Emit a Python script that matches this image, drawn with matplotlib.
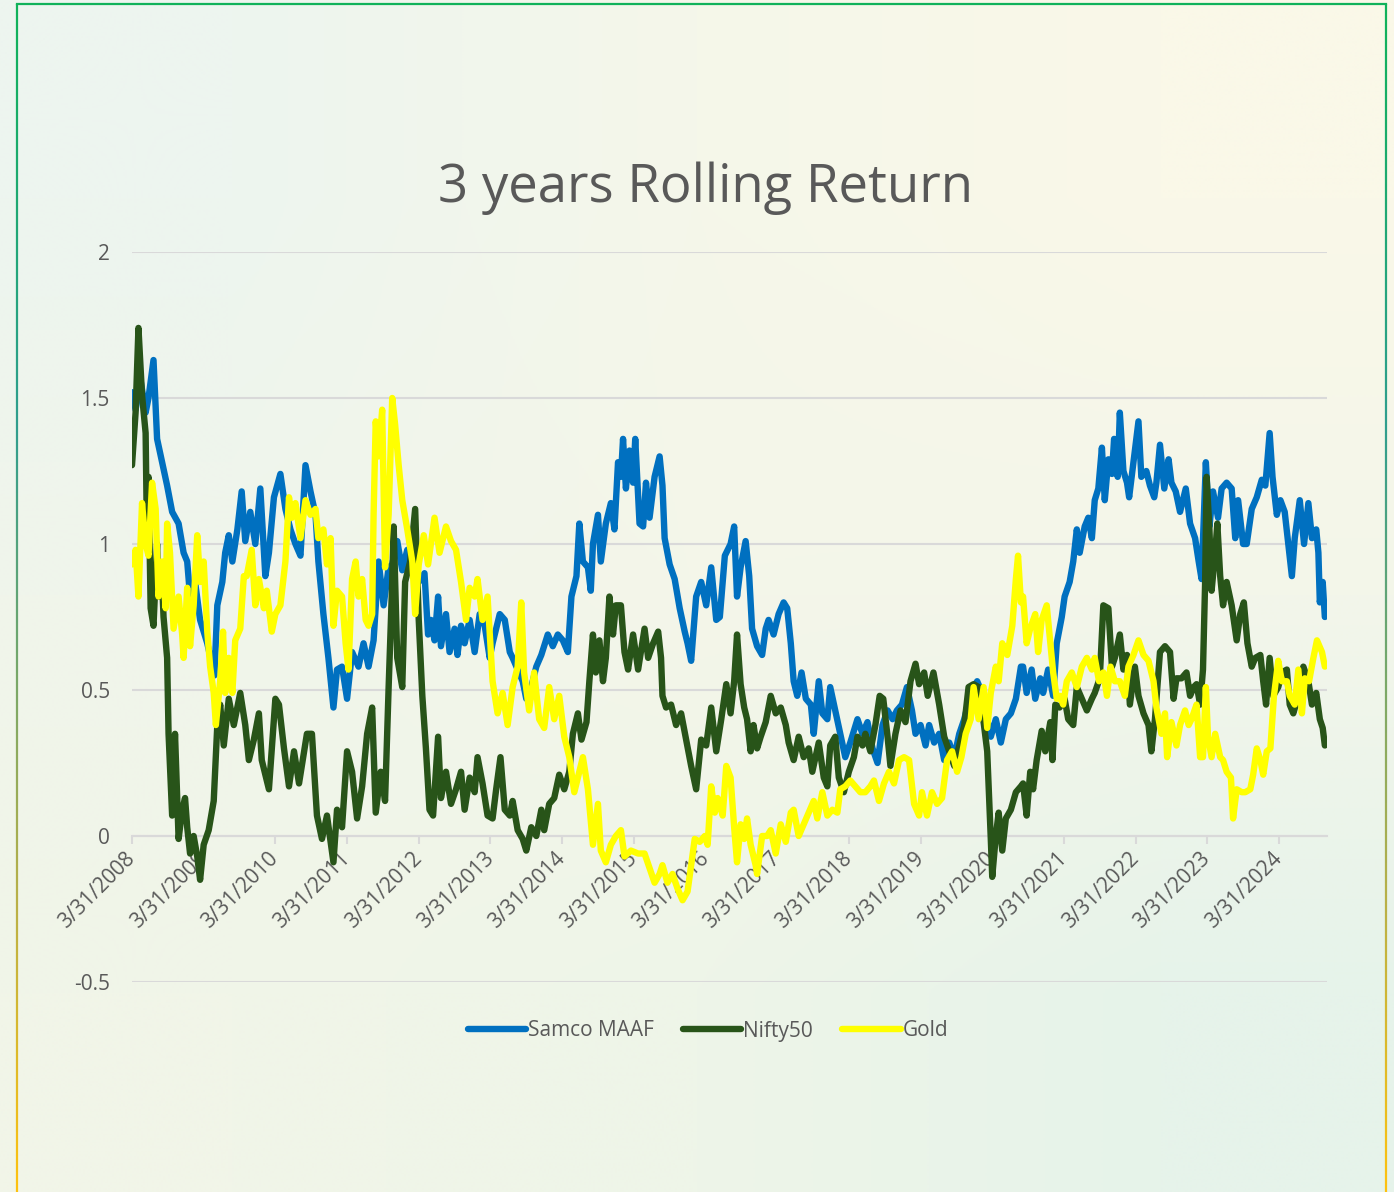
import numpy as np
import matplotlib.pyplot as plt
from matplotlib.colors import to_rgb, LinearSegmentedColormap
from matplotlib.collections import LineCollection
from matplotlib.lines import Line2D

plt.rcParams['font.family'] = ['Open Sans', 'DejaVu Sans']
plt.rcParams['axes.unicode_minus'] = False

# x = years after 3/31/2008
tick_years = list(range(2008, 2025))
tick_labels = [f"3/31/{y}" for y in tick_years]
y_ticks = [-0.5, 0, 0.5, 1, 1.5, 2]
y_labels = ['-0.5', '0', '0.5', '1', '1.5', '2']

series_names = ['Samco MAAF', 'Nifty50', 'Gold']
series_colors = ['#0070C0', '#285419', '#FFFF00']

maaf = [
    (0.00, 1.52), (0.05, 1.46), (0.12, 1.56), (0.19, 1.45), (0.23, 1.50), (0.30, 1.63),
    (0.35, 1.36), (0.42, 1.28), (0.49, 1.20), (0.56, 1.11), (0.65, 1.07), (0.72, 0.97),
    (0.77, 0.94), (0.81, 0.82), (0.88, 0.87), (0.95, 0.74), (1.05, 0.66), (1.15, 0.55),
    (1.19, 0.79), (1.26, 0.87), (1.30, 0.97), (1.35, 1.03), (1.40, 0.94), (1.47, 1.05),
    (1.53, 1.18), (1.58, 1.01), (1.65, 1.11), (1.72, 1.00), (1.79, 1.19), (1.86, 0.89),
    (1.91, 0.97), (1.98, 1.16), (2.07, 1.24), (2.14, 1.12), (2.21, 1.05), (2.28, 1.00),
    (2.35, 0.96), (2.42, 1.27), (2.49, 1.18), (2.56, 1.10), (2.60, 0.94), (2.67, 0.76),
    (2.74, 0.61), (2.81, 0.44), (2.86, 0.57), (2.93, 0.58), (3.00, 0.47), (3.07, 0.63),
    (3.16, 0.58), (3.23, 0.66), (3.30, 0.58), (3.37, 0.67), (3.44, 0.94), (3.51, 0.79),
    (3.58, 0.92), (3.63, 0.93), (3.70, 1.01), (3.77, 0.91), (3.84, 0.98), (4.00, 0.87),
    (4.08, 0.90), (4.13, 0.69), (4.17, 0.74), (4.22, 0.67), (4.27, 0.82), (4.31, 0.65),
    (4.38, 0.76), (4.43, 0.63), (4.50, 0.71), (4.54, 0.62), (4.59, 0.72), (4.64, 0.66),
    (4.71, 0.74), (4.78, 0.63), (4.85, 0.76), (4.92, 0.72), (4.99, 0.61), (5.03, 0.66),
    (5.13, 0.76), (5.20, 0.74), (5.27, 0.63), (5.31, 0.61), (5.38, 0.57), (5.45, 0.53),
    (5.50, 0.47), (5.57, 0.51), (5.64, 0.58), (5.71, 0.62), (5.80, 0.69), (5.87, 0.65),
    (5.94, 0.69), (6.01, 0.67), (6.08, 0.63), (6.13, 0.82), (6.20, 0.89), (6.24, 1.07),
    (6.29, 0.94), (6.36, 0.92), (6.40, 0.84), (6.43, 1.00), (6.50, 1.10), (6.54, 0.94),
    (6.61, 1.07), (6.68, 1.14), (6.73, 1.05), (6.78, 1.28), (6.82, 1.23), (6.85, 1.36),
    (6.89, 1.19), (6.94, 1.32), (6.99, 1.21), (7.02, 1.36), (7.08, 1.07), (7.13, 1.06),
    (7.17, 1.21), (7.22, 1.09), (7.29, 1.23), (7.36, 1.30), (7.40, 1.20), (7.43, 1.02),
    (7.50, 0.93), (7.57, 0.88), (7.64, 0.78), (7.71, 0.70), (7.75, 0.66), (7.80, 0.60),
    (7.87, 0.82), (7.94, 0.87), (8.01, 0.79), (8.08, 0.92), (8.15, 0.74), (8.20, 0.75),
    (8.27, 0.96), (8.35, 1.00), (8.40, 1.06), (8.44, 0.82), (8.49, 0.92), (8.56, 1.01),
    (8.61, 0.89), (8.65, 0.71), (8.72, 0.65), (8.79, 0.62), (8.84, 0.71), (8.88, 0.74),
    (8.95, 0.69), (9.02, 0.76), (9.09, 0.80), (9.14, 0.78), (9.19, 0.66), (9.23, 0.53),
    (9.28, 0.48), (9.34, 0.56), (9.40, 0.47), (9.47, 0.45), (9.51, 0.35), (9.58, 0.53),
    (9.63, 0.42), (9.70, 0.40), (9.74, 0.51), (9.81, 0.43), (9.88, 0.35), (9.95, 0.27),
    (10.02, 0.32), (10.12, 0.40), (10.19, 0.35), (10.26, 0.39), (10.33, 0.30), (10.40, 0.25),
    (10.47, 0.38), (10.54, 0.43), (10.61, 0.40), (10.67, 0.43), (10.74, 0.45), (10.81, 0.51),
    (10.88, 0.43), (10.93, 0.35), (11.00, 0.38), (11.07, 0.31), (11.12, 0.38), (11.19, 0.32),
    (11.26, 0.35), (11.33, 0.26), (11.40, 0.32), (11.47, 0.27), (11.54, 0.35), (11.61, 0.40),
    (11.70, 0.49), (11.79, 0.53), (11.86, 0.49), (11.93, 0.40), (11.98, 0.34), (12.05, 0.40),
    (12.12, 0.32), (12.19, 0.40), (12.26, 0.42), (12.33, 0.47), (12.40, 0.58), (12.43, 0.58),
    (12.48, 0.49), (12.55, 0.57), (12.60, 0.47), (12.67, 0.54), (12.71, 0.49), (12.78, 0.57),
    (12.85, 0.48), (12.90, 0.66), (12.97, 0.75), (13.01, 0.82), (13.08, 0.87), (13.13, 0.94),
    (13.18, 1.05), (13.22, 0.97), (13.29, 1.06), (13.34, 1.09), (13.39, 1.02), (13.43, 1.15),
    (13.48, 1.19), (13.53, 1.33), (13.57, 1.15), (13.62, 1.29), (13.67, 1.24), (13.70, 1.36),
    (13.75, 1.23), (13.78, 1.45), (13.83, 1.25), (13.88, 1.21), (13.91, 1.16), (13.97, 1.28),
    (14.04, 1.42), (14.08, 1.23), (14.15, 1.25), (14.20, 1.20), (14.26, 1.16), (14.29, 1.21),
    (14.34, 1.34), (14.40, 1.19), (14.46, 1.29), (14.50, 1.21), (14.56, 1.18), (14.62, 1.11),
    (14.70, 1.19), (14.76, 1.07), (14.83, 1.02), (14.88, 0.94), (14.92, 0.88), (14.98, 1.28),
    (15.03, 1.06), (15.08, 1.18), (15.15, 1.09), (15.20, 1.19), (15.27, 1.21), (15.34, 1.19),
    (15.39, 1.02), (15.43, 1.15), (15.50, 1.00), (15.55, 1.00), (15.62, 1.12), (15.69, 1.16),
    (15.76, 1.22), (15.81, 1.20), (15.87, 1.38), (15.91, 1.23), (15.97, 1.10), (16.02, 1.15),
    (16.08, 1.11), (16.13, 1.00), (16.18, 0.89), (16.22, 1.02), (16.29, 1.15), (16.35, 1.00),
    (16.41, 1.14), (16.46, 1.02), (16.52, 1.05), (16.55, 0.97), (16.57, 0.80), (16.61, 0.87),
    (16.64, 0.75),
]

nifty = [
    (0.00, 1.27), (0.05, 1.45), (0.09, 1.74), (0.14, 1.51), (0.19, 1.38), (0.21, 1.00),
    (0.23, 1.23), (0.26, 0.78), (0.30, 0.72), (0.35, 1.00), (0.37, 0.82), (0.42, 0.87),
    (0.44, 0.75), (0.49, 0.61), (0.51, 0.35), (0.56, 0.07), (0.60, 0.35), (0.65, -0.01),
    (0.70, 0.09), (0.74, 0.13), (0.77, 0.03), (0.81, -0.06), (0.86, 0.00), (0.91, -0.07),
    (0.95, -0.15), (1.00, -0.03), (1.07, 0.02), (1.14, 0.12), (1.19, 0.38), (1.23, 0.45),
    (1.28, 0.31), (1.35, 0.47), (1.42, 0.38), (1.51, 0.49), (1.58, 0.38), (1.63, 0.26),
    (1.70, 0.33), (1.77, 0.42), (1.81, 0.26), (1.91, 0.16), (2.00, 0.47), (2.05, 0.45),
    (2.12, 0.30), (2.19, 0.17), (2.26, 0.29), (2.33, 0.18), (2.44, 0.35), (2.51, 0.35),
    (2.58, 0.07), (2.65, -0.01), (2.72, 0.07), (2.81, -0.09), (2.86, 0.09), (2.93, 0.03),
    (3.00, 0.29), (3.07, 0.22), (3.14, 0.06), (3.21, 0.17), (3.28, 0.35), (3.35, 0.44),
    (3.40, 0.08), (3.47, 0.22), (3.53, 0.12), (3.58, 0.51), (3.63, 0.87), (3.65, 1.06),
    (3.70, 0.61), (3.77, 0.51), (3.81, 0.87), (3.88, 0.94), (3.95, 1.12), (4.00, 0.74),
    (4.05, 0.48), (4.10, 0.30), (4.15, 0.09), (4.20, 0.07), (4.27, 0.34), (4.31, 0.13),
    (4.38, 0.22), (4.45, 0.11), (4.52, 0.16), (4.59, 0.22), (4.64, 0.09), (4.71, 0.20),
    (4.78, 0.15), (4.82, 0.27), (4.89, 0.18), (4.96, 0.07), (5.03, 0.06), (5.08, 0.16),
    (5.14, 0.27), (5.20, 0.09), (5.27, 0.07), (5.31, 0.12), (5.38, 0.02), (5.45, -0.01),
    (5.50, -0.05), (5.57, 0.03), (5.64, 0.00), (5.71, 0.09), (5.75, 0.02), (5.82, 0.11),
    (5.89, 0.13), (5.96, 0.21), (6.03, 0.16), (6.10, 0.22), (6.15, 0.35), (6.22, 0.42),
    (6.27, 0.33), (6.34, 0.39), (6.38, 0.53), (6.43, 0.69), (6.47, 0.56), (6.52, 0.67),
    (6.57, 0.53), (6.61, 0.61), (6.66, 0.82), (6.71, 0.69), (6.75, 0.79), (6.82, 0.79),
    (6.87, 0.63), (6.92, 0.57), (6.99, 0.69), (7.06, 0.57), (7.15, 0.71), (7.20, 0.61),
    (7.27, 0.66), (7.34, 0.70), (7.38, 0.61), (7.40, 0.48), (7.45, 0.44), (7.52, 0.45),
    (7.59, 0.38), (7.66, 0.42), (7.73, 0.33), (7.80, 0.24), (7.87, 0.16), (7.94, 0.33),
    (8.01, 0.31), (8.08, 0.44), (8.15, 0.29), (8.22, 0.40), (8.29, 0.52), (8.35, 0.42),
    (8.40, 0.53), (8.44, 0.69), (8.49, 0.52), (8.54, 0.44), (8.58, 0.40), (8.63, 0.29),
    (8.67, 0.38), (8.72, 0.30), (8.77, 0.34), (8.84, 0.39), (8.91, 0.48), (8.98, 0.42),
    (9.05, 0.44), (9.12, 0.38), (9.16, 0.32), (9.23, 0.26), (9.30, 0.34), (9.37, 0.27),
    (9.44, 0.30), (9.49, 0.22), (9.58, 0.32), (9.65, 0.20), (9.70, 0.17), (9.74, 0.31),
    (9.81, 0.34), (9.86, 0.20), (9.93, 0.15), (10.00, 0.22), (10.07, 0.27), (10.12, 0.34),
    (10.19, 0.31), (10.23, 0.35), (10.30, 0.29), (10.37, 0.38), (10.43, 0.48), (10.48, 0.47),
    (10.54, 0.34), (10.58, 0.24), (10.65, 0.35), (10.72, 0.43), (10.79, 0.39), (10.86, 0.53),
    (10.93, 0.59), (10.98, 0.52), (11.05, 0.56), (11.10, 0.48), (11.18, 0.56), (11.26, 0.45),
    (11.33, 0.34), (11.40, 0.29), (11.47, 0.24), (11.54, 0.31), (11.61, 0.38), (11.67, 0.51),
    (11.74, 0.52), (11.81, 0.51), (11.88, 0.39), (11.93, 0.29), (11.98, -0.01), (12.00, -0.14),
    (12.05, 0.00), (12.09, 0.08), (12.14, -0.05), (12.19, 0.06), (12.26, 0.09), (12.33, 0.15),
    (12.40, 0.17), (12.43, 0.18), (12.48, 0.07), (12.53, 0.22), (12.57, 0.16), (12.62, 0.26),
    (12.69, 0.36), (12.74, 0.29), (12.81, 0.39), (12.84, 0.26), (12.88, 0.45), (12.94, 0.44),
    (13.01, 0.47), (13.06, 0.40), (13.13, 0.38), (13.18, 0.51), (13.25, 0.47), (13.32, 0.43),
    (13.39, 0.47), (13.43, 0.49), (13.50, 0.54), (13.55, 0.79), (13.62, 0.78), (13.67, 0.58),
    (13.71, 0.61), (13.78, 0.69), (13.83, 0.57), (13.88, 0.62), (13.92, 0.45), (13.99, 0.58),
    (14.04, 0.48), (14.11, 0.42), (14.18, 0.38), (14.22, 0.29), (14.27, 0.40), (14.34, 0.63),
    (14.41, 0.65), (14.48, 0.63), (14.53, 0.47), (14.57, 0.54), (14.64, 0.54), (14.71, 0.56),
    (14.76, 0.48), (14.81, 0.51), (14.85, 0.52), (14.90, 0.45), (14.94, 0.57), (14.97, 0.87),
    (14.99, 1.23), (15.03, 1.05), (15.06, 0.84), (15.11, 0.97), (15.14, 1.07), (15.18, 0.89),
    (15.22, 0.79), (15.27, 0.87), (15.34, 0.79), (15.41, 0.67), (15.46, 0.76), (15.51, 0.80),
    (15.56, 0.66), (15.62, 0.58), (15.67, 0.61), (15.74, 0.62), (15.78, 0.53), (15.82, 0.45),
    (15.87, 0.61), (15.92, 0.48), (15.99, 0.51), (16.04, 0.56), (16.11, 0.57), (16.15, 0.45),
    (16.20, 0.42), (16.27, 0.48), (16.34, 0.58), (16.41, 0.53), (16.46, 0.45), (16.52, 0.49),
    (16.57, 0.40), (16.61, 0.37), (16.64, 0.31),
]

gold = [
    (0.00, 0.93), (0.05, 0.98), (0.09, 0.82), (0.14, 1.14), (0.19, 1.00), (0.23, 0.96),
    (0.28, 1.21), (0.33, 1.12), (0.37, 0.82), (0.42, 0.94), (0.47, 0.78), (0.49, 1.07),
    (0.53, 0.97), (0.58, 0.71), (0.65, 0.82), (0.70, 0.69), (0.72, 0.61), (0.77, 0.85),
    (0.81, 0.65), (0.86, 0.79), (0.91, 1.03), (0.95, 0.87), (1.00, 0.94), (1.05, 0.70),
    (1.09, 0.58), (1.14, 0.49), (1.17, 0.38), (1.23, 0.53), (1.27, 0.70), (1.30, 0.49),
    (1.35, 0.61), (1.40, 0.49), (1.44, 0.67), (1.51, 0.71), (1.56, 0.89), (1.60, 0.89),
    (1.67, 0.98), (1.72, 0.79), (1.77, 0.88), (1.84, 0.78), (1.88, 0.84), (1.95, 0.70),
    (2.00, 0.76), (2.07, 0.79), (2.14, 0.94), (2.19, 1.16), (2.23, 1.09), (2.28, 1.14),
    (2.35, 1.02), (2.42, 1.15), (2.49, 1.10), (2.56, 1.12), (2.60, 1.02), (2.67, 1.05),
    (2.72, 0.93), (2.77, 1.02), (2.81, 0.72), (2.86, 0.84), (2.93, 0.82), (2.98, 0.66),
    (3.02, 0.57), (3.07, 0.88), (3.12, 0.94), (3.16, 0.82), (3.21, 0.88), (3.26, 0.74),
    (3.30, 0.72), (3.35, 0.76), (3.37, 1.10), (3.40, 1.42), (3.44, 1.30), (3.49, 1.46),
    (3.53, 0.92), (3.58, 1.10), (3.63, 1.50), (3.67, 1.41), (3.72, 1.27), (3.77, 1.15),
    (3.84, 1.05), (3.91, 0.94), (3.95, 0.76), (4.00, 0.93), (4.07, 1.03), (4.13, 0.93),
    (4.22, 1.09), (4.29, 0.97), (4.38, 1.06), (4.45, 1.01), (4.52, 0.98), (4.59, 0.87),
    (4.66, 0.74), (4.71, 0.85), (4.78, 0.82), (4.82, 0.88), (4.89, 0.74), (4.96, 0.82),
    (5.03, 0.53), (5.10, 0.42), (5.17, 0.49), (5.24, 0.38), (5.31, 0.51), (5.38, 0.58),
    (5.43, 0.80), (5.47, 0.56), (5.54, 0.43), (5.61, 0.56), (5.68, 0.40), (5.75, 0.37),
    (5.82, 0.51), (5.89, 0.40), (5.96, 0.48), (6.03, 0.34), (6.10, 0.27), (6.17, 0.15),
    (6.24, 0.22), (6.29, 0.27), (6.36, 0.16), (6.43, -0.03), (6.50, 0.11), (6.54, -0.05),
    (6.61, -0.09), (6.68, -0.03), (6.75, 0.00), (6.82, 0.02), (6.87, -0.07), (6.96, -0.05),
    (7.06, -0.06), (7.15, -0.06), (7.22, -0.11), (7.29, -0.16), (7.36, -0.13), (7.40, -0.10),
    (7.47, -0.16), (7.54, -0.13), (7.61, -0.18), (7.68, -0.22), (7.75, -0.19), (7.85, -0.01),
    (7.92, -0.02), (7.99, 0.00), (8.03, -0.03), (8.08, 0.17), (8.13, 0.08), (8.17, 0.13),
    (8.24, 0.07), (8.29, 0.24), (8.35, 0.20), (8.40, 0.03), (8.44, -0.09), (8.49, 0.04),
    (8.54, -0.01), (8.58, 0.06), (8.63, -0.03), (8.70, -0.10), (8.72, -0.13), (8.79, 0.00),
    (8.86, 0.00), (8.91, 0.02), (8.98, -0.06), (9.05, 0.04), (9.12, -0.02), (9.19, 0.08),
    (9.23, 0.09), (9.30, 0.00), (9.37, 0.04), (9.44, 0.08), (9.51, 0.12), (9.56, 0.06),
    (9.63, 0.15), (9.70, 0.07), (9.77, 0.09), (9.84, 0.08), (9.88, 0.16), (9.95, 0.17),
    (10.02, 0.19), (10.09, 0.17), (10.16, 0.15), (10.23, 0.15), (10.30, 0.17), (10.35, 0.19),
    (10.42, 0.12), (10.49, 0.18), (10.56, 0.22), (10.63, 0.18), (10.70, 0.26), (10.77, 0.27),
    (10.84, 0.26), (10.91, 0.11), (10.98, 0.07), (11.02, 0.15), (11.09, 0.07), (11.16, 0.15),
    (11.23, 0.11), (11.30, 0.13), (11.37, 0.26), (11.44, 0.29), (11.51, 0.22), (11.57, 0.27),
    (11.63, 0.35), (11.70, 0.40), (11.74, 0.51), (11.81, 0.40), (11.88, 0.51), (11.93, 0.37),
    (11.98, 0.49), (12.05, 0.58), (12.09, 0.53), (12.14, 0.66), (12.21, 0.62), (12.28, 0.72),
    (12.33, 0.88), (12.36, 0.96), (12.40, 0.80), (12.43, 0.82), (12.48, 0.66), (12.53, 0.71),
    (12.60, 0.76), (12.64, 0.63), (12.69, 0.74), (12.76, 0.79), (12.81, 0.66), (12.85, 0.56),
    (12.90, 0.47), (12.94, 0.48), (12.99, 0.45), (13.04, 0.53), (13.11, 0.56), (13.18, 0.51),
    (13.25, 0.58), (13.32, 0.61), (13.39, 0.57), (13.43, 0.61), (13.49, 0.53), (13.55, 0.56),
    (13.60, 0.48), (13.65, 0.58), (13.71, 0.53), (13.78, 0.53), (13.85, 0.48), (13.90, 0.58),
    (13.97, 0.62), (14.04, 0.67), (14.11, 0.62), (14.18, 0.60), (14.25, 0.53), (14.29, 0.44),
    (14.36, 0.35), (14.41, 0.42), (14.44, 0.27), (14.50, 0.39), (14.57, 0.31), (14.62, 0.38),
    (14.69, 0.43), (14.74, 0.38), (14.78, 0.40), (14.85, 0.45), (14.90, 0.27), (14.94, 0.27),
    (14.98, 0.51), (15.01, 0.34), (15.06, 0.27), (15.11, 0.35), (15.18, 0.27), (15.22, 0.26),
    (15.27, 0.22), (15.33, 0.20), (15.36, 0.06), (15.41, 0.16), (15.48, 0.15), (15.53, 0.15),
    (15.60, 0.16), (15.64, 0.21), (15.69, 0.30), (15.74, 0.26), (15.78, 0.21), (15.83, 0.29),
    (15.88, 0.30), (15.93, 0.48), (15.99, 0.60), (16.04, 0.53), (16.11, 0.53), (16.15, 0.48),
    (16.22, 0.45), (16.27, 0.57), (16.32, 0.42), (16.36, 0.54), (16.42, 0.53), (16.48, 0.61),
    (16.53, 0.67), (16.60, 0.63), (16.64, 0.58),
]

W, H = 1394, 1192
fig = plt.figure(figsize=(W / 100, H / 100), dpi=100)

# soft gradient background
bg = fig.add_axes([0, 0, 1, 1], zorder=-10)
bg_grid = [
    ['#EDF5EF', '#F5F7EA', '#FAF8E8'],
    ['#F0F5EB', '#F4F6E9', '#F3F6EA'],
    ['#F1F5E8', '#EEF5E8', '#E6F3EA'],
]
img = np.array([[to_rgb(c) for c in row] for row in bg_grid])
bg.imshow(img, aspect='auto', interpolation='bilinear', extent=[0, 1, 0, 1])
bg.set_xlim(0, 1)
bg.set_ylim(0, 1)
bg.set_axis_off()

# frame with green -> yellow gradient
frame_cmap = LinearSegmentedColormap.from_list(
    'frame', [(0, '#10B25A'), (0.35, '#2F9E8E'), (0.75, '#B8B048'), (1, '#FFC20E')])
xl, xr, yt = 16.5 / W, 1386 / W, 1 - 4 / H
ys = np.linspace(yt, 0, 120)
segs, cols = [], []
for x0 in (xl, xr):
    for a, b in zip(ys[:-1], ys[1:]):
        segs.append([(x0, a), (x0, b)])
        cols.append(frame_cmap((yt - a) / yt))
bg.add_collection(LineCollection(segs, colors=cols, linewidths=1.6))
bg.plot([xl, xr], [yt, yt], color='#10B25A', lw=1.6)

ax = fig.add_axes([132 / W, 1 - 982 / H, (1327 - 132) / W, (982 - 252) / H])
ax.patch.set_alpha(0)

# axis line sits at zero (set before ticks: moving a spine resets them)
for s in ['left', 'right', 'top']:
    ax.spines[s].set_visible(False)
ax.spines['bottom'].set_position(('data', 0))
ax.spines['bottom'].set_color('#D9D9D9')
ax.spines['bottom'].set_linewidth(1.5)
ax.spines['bottom'].set_zorder(0.5)

for data, name, color in zip([maaf, nifty, gold], series_names, series_colors):
    t, v = zip(*data)
    ax.plot(t, v, color=color, lw=4.6, label=name,
            solid_joinstyle='round', solid_capstyle='round')

ax.set_xlim(0, 16.67)
ax.set_ylim(-0.5, 2.0)
ax.set_yticks(y_ticks)
ax.set_yticklabels(y_labels)
ax.set_xticks(range(len(tick_labels)))
ax.set_xticklabels(tick_labels, rotation=45, ha='right', va='center',
                   rotation_mode='anchor')

ax.yaxis.grid(True, color='#D9D9D9', lw=1.5)
ax.set_axisbelow(True)
ax.tick_params(axis='x', colors='#D9D9D9', length=6, width=1.5, pad=8,
               labelcolor='#595959', labelsize=15)
ax.tick_params(axis='y', length=0, pad=16, labelcolor='#595959', labelsize=15)

fig.text(705 / W, 1 - 188 / H, '3 years Rolling Return', ha='center', va='center',
         fontsize=38, color='#595959')

handles = [Line2D([], [], color=c, lw=4.6, solid_capstyle='round') for c in series_colors]
leg = fig.legend(handles, series_names, loc='center', bbox_to_anchor=(708 / W, 1 - 1031 / H),
                 ncol=3, frameon=False, handlelength=2.8, handletextpad=0.1,
                 columnspacing=1.4, fontsize=15)
for txt in leg.get_texts():
    txt.set_color('#595959')

fig.savefig('out.png', dpi=100)
